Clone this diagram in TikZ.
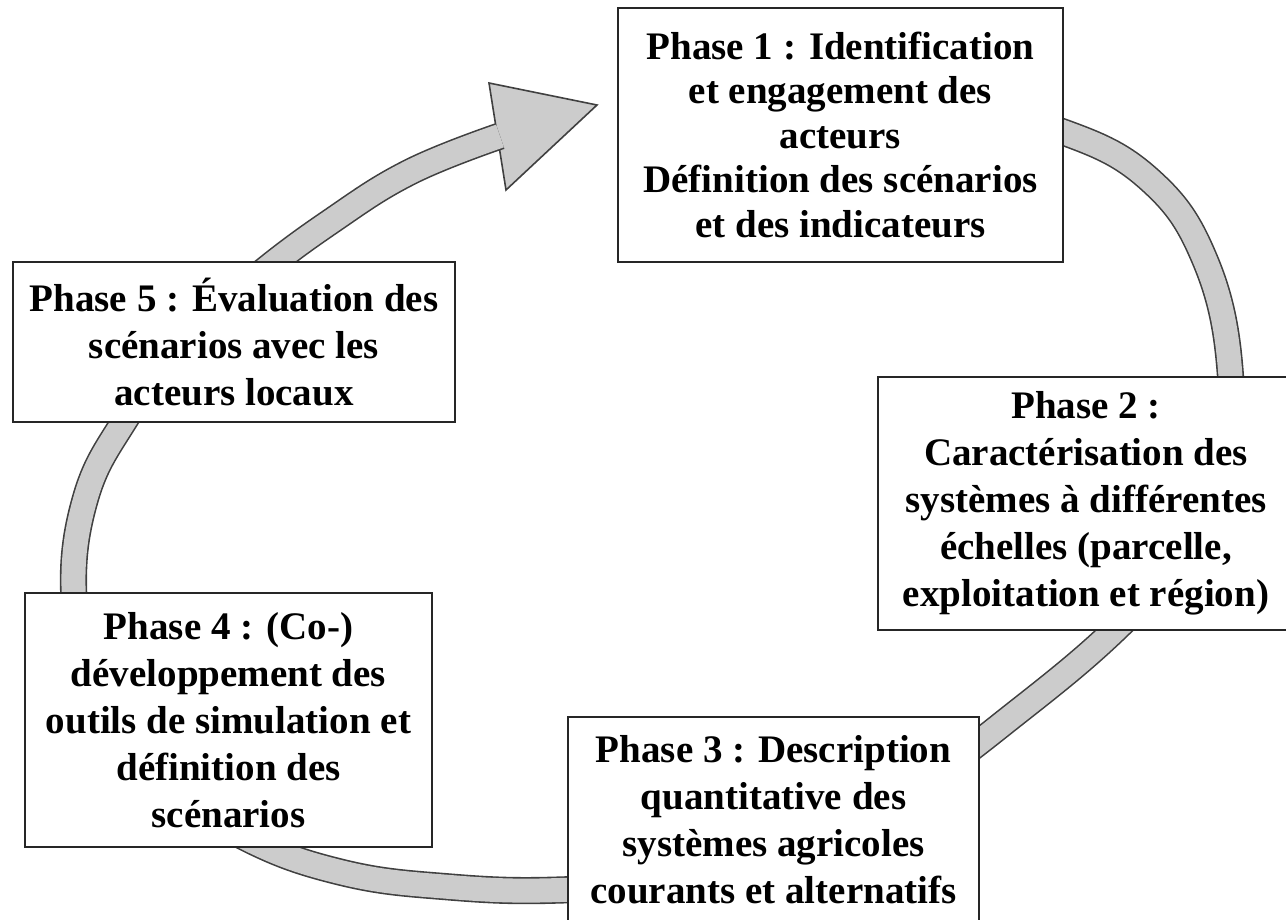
\documentclass[tikz,border=0pt]{standalone}
\usepackage{fontspec}
\setmainfont{Liberation Serif}
\definecolor{ringfill}{gray}{0.8}
\definecolor{ringline}{gray}{0.25}

\begin{document}
\begin{tikzpicture}[x=0.5pt,y=-0.5pt,
    phase/.style={draw=black!85,line width=1pt,fill=white,align=center,inner sep=0pt,
        font=\fontsize{19.5}{23.5}\selectfont\bfseries}]
    \useasboundingbox(0,0)rectangle(1286,920);

    \coordinate(barbup)at(489,83);
    \coordinate(tip)at(597,105);
    \coordinate(barbdown)at(506,190);
    \filldraw[fill=ringfill,draw=ringline,line width=0.8pt](barbup)--(tip)--(barbdown)--cycle;
    \draw[double=ringfill,double distance=12pt,line width=0.8pt,draw=ringline]plot[smooth,tension=0.7]coordinates{
        (950,107)(1063,132)(1150,180)(1205,260)(1230,370)(1222,470)(1185,550)(1120,625)
        (1020,710)(910,790)(790,848)(670,880)(560,890)(450,887)(340,872)(240,835)
        (150,775)(95,690)(74,600)(85,500)(125,420)(185,340)(255,278)(330,222)(410,172)(500,136)};


    \node[phase,minimum width=222.5pt,minimum height=127pt,font=\fontsize{19.5}{22.25}\selectfont\bfseries](phase1)at(840.5,135)
        {Phase 1 : Identification\\et engagement des\\acteurs\\Définition des scénarios\\et des indicateurs};

    \node[phase,minimum width=208pt,minimum height=126.5pt](phase2)at(1086,503.5)
        {Phase 2 :\\Caractérisation des\\systèmes à différentes\\échelles (parcelle,\\exploitation et région)};

    \node[phase,minimum width=205.5pt,minimum height=102.5pt](phase3)at(773.5,819.5)
        {Phase 3 : Description\\quantitative des\\systèmes agricoles\\courants et alternatifs};

    \node[phase,minimum width=203.5pt,minimum height=127pt](phase4)at(228.5,720)
        {Phase 4 : (Co-)\\développement des\\outils de simulation et\\définition des\\scénarios};

    \node[phase,minimum width=221pt,minimum height=80pt](phase5)at(234,342)
        {Phase 5 : Évaluation des\\scénarios avec les\\acteurs locaux};
\end{tikzpicture}
\end{document}
